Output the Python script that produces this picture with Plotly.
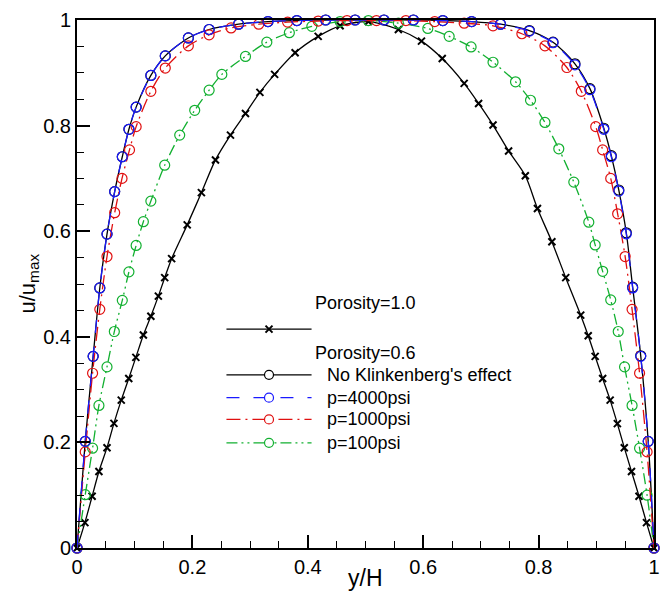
import plotly.graph_objects as go

# ---------------- data ----------------
por1_x = [0, 0.0137, 0.0262, 0.038, 0.052, 0.064, 0.0767, 0.0897, 0.102, 0.115, 0.128, 0.141, 0.152,
          0.164, 0.191, 0.2156, 0.240, 0.266, 0.292, 0.317, 0.3425, 0.378, 0.418, 0.456, 0.505, 0.557,
          0.597, 0.633, 0.671, 0.696, 0.721, 0.748, 0.777, 0.798, 0.823, 0.847, 0.873, 0.886, 0.898,
          0.911, 0.924, 0.9365, 0.9485, 0.961, 0.974, 0.987, 1.0]
por1_y = [0, 0.048, 0.098, 0.145, 0.190, 0.236, 0.280, 0.321, 0.361, 0.4035, 0.439, 0.477, 0.512,
          0.548, 0.612, 0.673, 0.735, 0.782, 0.823, 0.863, 0.897, 0.938, 0.969, 0.989, 0.997, 0.982,
          0.960, 0.927, 0.880, 0.842, 0.801, 0.752, 0.705, 0.643, 0.580, 0.512, 0.441, 0.402, 0.363,
          0.321, 0.280, 0.2355, 0.190, 0.145, 0.098, 0.048, 0]

p4000_x = [0, 0.0143, 0.028, 0.0395, 0.052, 0.0653, 0.0785, 0.090, 0.1025, 0.128, 0.153, 0.193, 0.229,
           0.280, 0.331, 0.381, 0.431, 0.482, 0.532, 0.583, 0.634, 0.684, 0.734, 0.784, 0.825, 0.863,
           0.889, 0.913, 0.926, 0.939, 0.952, 0.963, 0.977, 0.990, 1.0]
p4000_y = [0, 0.202, 0.363, 0.4925, 0.5945, 0.675, 0.741, 0.793, 0.835, 0.895, 0.932, 0.966, 0.982,
           0.992, 0.997, 0.999, 1.0, 1.0, 1.0, 1.0, 0.999, 0.997, 0.992, 0.979, 0.957, 0.915,
           0.868, 0.793, 0.741, 0.676, 0.595, 0.4925, 0.363, 0.202, 0]

nok_x = p4000_x
nok_y = [0, 0.202, 0.363, 0.4925, 0.5945, 0.675, 0.741, 0.793, 0.835, 0.895, 0.932, 0.966, 0.982,
         0.992, 0.997, 0.999, 1.0, 1.0, 1.0, 1.0, 0.999, 0.997, 0.992, 0.980, 0.958, 0.917,
         0.870, 0.795, 0.743, 0.678, 0.597, 0.494, 0.364, 0.202, 0]

p1000_x = [0, 0.0143, 0.027, 0.0395, 0.052, 0.0653, 0.078, 0.091, 0.1025, 0.128, 0.153, 0.193, 0.229,
           0.267, 0.315, 0.365, 0.418, 0.468, 0.519, 0.570, 0.620, 0.671, 0.721, 0.771, 0.811, 0.849,
           0.874, 0.899, 0.911, 0.925, 0.937, 0.950, 0.962, 0.975, 0.988, 1.0]
p1000_y = [0, 0.182, 0.331, 0.452, 0.552, 0.635, 0.700, 0.754, 0.798, 0.865, 0.909, 0.951, 0.972,
           0.985, 0.992, 0.996, 0.998, 0.999, 0.999, 0.999, 0.997, 0.994, 0.989, 0.974, 0.951, 0.910,
           0.865, 0.798, 0.754, 0.700, 0.633, 0.552, 0.452, 0.331, 0.182, 0]

p100_x = [0, 0.0143, 0.027, 0.038, 0.052, 0.0647, 0.0785, 0.090, 0.1025, 0.115, 0.128, 0.152, 0.178,
          0.204, 0.229, 0.251, 0.292, 0.329, 0.368, 0.407, 0.456, 0.505, 0.557, 0.608, 0.645, 0.683,
          0.721, 0.760, 0.786, 0.811, 0.835, 0.861, 0.887, 0.898, 0.911, 0.925, 0.938, 0.949, 0.962,
          0.975, 0.988, 1.0]
p100_y = [0, 0.101, 0.189, 0.270, 0.343, 0.410, 0.469, 0.523, 0.573, 0.618, 0.657, 0.725, 0.782,
          0.829, 0.867, 0.897, 0.931, 0.958, 0.976, 0.988, 0.997, 0.999, 0.994, 0.984, 0.969, 0.949,
          0.920, 0.883, 0.848, 0.806, 0.756, 0.693, 0.617, 0.574, 0.524, 0.470, 0.410, 0.343, 0.270,
          0.189, 0.100, 0]

tick_vals = [0, 0.2, 0.4, 0.6, 0.8, 1.0]
tick_text = ["0", "0.2", "0.4", "0.6", "0.8", "1"]

x_title = "y/H"
y_title = "u/u<sub>max</sub>"
header1 = "Porosity=1.0"
header2 = "Porosity=0.6"
labels = ["No Klinkenberg's effect", "p=4000psi", "p=1000psi", "p=100psi"]

# ---------------- styles ----------------
FONT = "Liberation Sans, Arial, Helvetica, sans-serif"
BLACK = "#000000"
BLUE = "#1a1aff"
RED = "#e01010"
GREEN = "#12b030"
DASH_BLUE = "13px,14px"
DASH_RED = "14px,5px,2px,5px"
DASH_GREEN = "11px,4px,2px,4px,2px,4px"

fig = go.Figure()


def circ_trace(x, y, color, dash, name):
    return go.Scatter(
        x=x, y=y, mode="lines+markers", name=name, cliponaxis=False,
        line=dict(color=color, width=1.3, dash=dash, shape="spline", smoothing=0.8),
        marker=dict(symbol="circle-open", size=10, color=color, line=dict(color=color, width=1.2)),
        showlegend=False)


fig.add_trace(go.Scatter(
    x=por1_x, y=por1_y, mode="lines+markers", name=header1, cliponaxis=False,
    line=dict(color=BLACK, width=1.3, shape="spline", smoothing=0.8),
    marker=dict(symbol="x-thin", size=7, color=BLACK, line=dict(color=BLACK, width=2)),
    showlegend=False))
fig.add_trace(circ_trace(nok_x, nok_y, BLACK, "solid", labels[0]))
fig.add_trace(circ_trace(p100_x, p100_y, GREEN, DASH_GREEN, labels[3]))
fig.add_trace(circ_trace(p1000_x, p1000_y, RED, DASH_RED, labels[2]))
fig.add_trace(circ_trace(p4000_x, p4000_y, BLUE, DASH_BLUE, labels[1]))

# ---------------- manual legend (decoration) ----------------
L, R, T, B = 77, 660, 16, 548


def px(xp):
    return (xp - L) / (R - L)


def py(yp):
    return (B - yp) / (B - T)


shapes = []
annotations = []
line_x0, line_x1, mark_x = 228, 314, 271


def legend_line(ypix, color, dash, marker):
    shapes.append(dict(type="line", xref="paper", yref="paper",
                       x0=px(line_x0), x1=px(line_x1), y0=py(ypix), y1=py(ypix),
                       line=dict(color=color, width=1.3, dash=dash)))
    if marker == "circle":
        shapes.append(dict(type="circle", xref="paper", yref="paper",
                           xsizemode="pixel", ysizemode="pixel",
                           xanchor=px(mark_x), yanchor=py(ypix),
                           x0=-4.5, x1=4.5, y0=-4.5, y1=4.5,
                           fillcolor="white", line=dict(color=color, width=1.2)))
    else:
        shapes.append(dict(type="path", xref="paper", yref="paper",
                           xsizemode="pixel", ysizemode="pixel",
                           xanchor=px(mark_x), yanchor=py(ypix),
                           path="M-3.5,-3.5L3.5,3.5M-3.5,3.5L3.5,-3.5",
                           line=dict(color=color, width=2)))


def legend_text(xpix, ypix, text):
    annotations.append(dict(text=text, xref="paper", yref="paper", x=px(xpix), y=py(ypix),
                            xanchor="left", yanchor="middle", showarrow=False,
                            font=dict(family=FONT, size=18, color="black")))


legend_text(315, 301, header1)
legend_line(327.5, BLACK, "solid", "x")
legend_text(315, 352, header2)
rows = [(373.5, BLACK, "solid"), (396.5, BLUE, DASH_BLUE), (418.5, RED, DASH_RED), (442, GREEN, DASH_GREEN)]
for (yy, col, dsh), lab in zip(rows, labels):
    legend_line(yy, col, dsh, "circle")
    legend_text(328, yy, lab)

# axis titles as annotations (placed as in the reference)
annotations.append(dict(text=x_title, xref="paper", yref="paper", x=px(369), y=py(578),
                        xanchor="center", yanchor="middle", showarrow=False,
                        font=dict(family=FONT, size=23, color="black")))
annotations.append(dict(text=y_title, xref="paper", yref="paper", x=px(28), y=py(282),
                        xanchor="center", yanchor="middle", showarrow=False, textangle=-90,
                        font=dict(family=FONT, size=22, color="black")))

axis_common = dict(
    range=[0, 1], tickvals=tick_vals, ticktext=tick_text,
    ticks="inside", ticklen=13, tickwidth=2, tickcolor="black",
    showline=True, linecolor="black", linewidth=2, mirror=True,
    showgrid=False, zeroline=False,
    tickfont=dict(family=FONT, size=20, color="black"),
    minor=dict(dtick=0.05, ticks="inside", ticklen=7, tickwidth=1, tickcolor="black", showgrid=False),
)

fig.update_layout(
    width=669, height=602,
    margin=dict(l=L, r=669 - R, t=T, b=602 - B),
    paper_bgcolor="white", plot_bgcolor="white",
    showlegend=False,
    xaxis=dict(axis_common),
    yaxis=dict(axis_common),
    shapes=shapes, annotations=annotations,
)

fig.write_html("out.html")
